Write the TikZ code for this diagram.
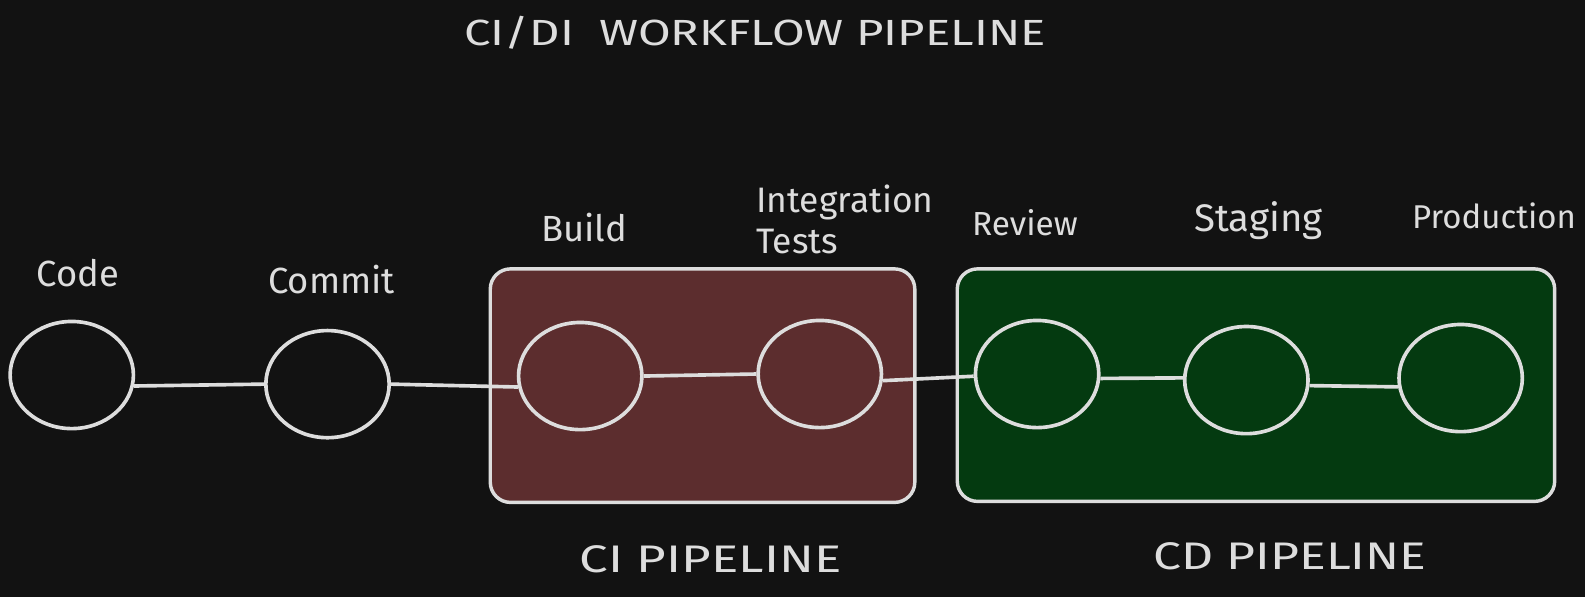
\documentclass[tikz,border=0pt]{standalone}
\usepackage{fontspec}
\setmainfont{Fira Sans}
\usetikzlibrary{shapes.geometric}
\definecolor{bg}{HTML}{121212}
\definecolor{ink}{HTML}{DDDDDD}
\definecolor{cifill}{HTML}{5C2D2E}
\definecolor{cdfill}{HTML}{043A10}
\tikzset{
  stage/.style={ellipse, draw=ink, line width=1.8pt, minimum width=61pt, minimum height=53pt, inner sep=0pt},
  link/.style={draw=ink, line width=1.8pt},
  groupbox/.style={rectangle, draw=ink, line width=1.7pt, rounded corners=10pt, inner sep=0pt},
  lbl/.style={text=ink, inner sep=0pt},
  heading/.style={text=ink, inner sep=0pt},
}
\newcommand{\fsz}[1]{\fontsize{#1}{20}\selectfont}
\begin{document}
\begin{tikzpicture}[x=0.5pt,y=-0.5pt]
\fill[bg] (0,0) rectangle (1568,591);
\useasboundingbox (0,0) rectangle (1568,591);
% group boxes
\node[groupbox, fill=cifill, minimum width=210pt, minimum height=115.5pt] (ci) at (695,381.5) {};
\node[groupbox, fill=cdfill, minimum width=295.5pt, minimum height=115pt] (cd) at (1242.5,381) {};
% stages
\node[stage] (code) at (71,371) {};
\node[stage] (commit) at (324,380) {};
\node[stage] (build) at (574,372) {};
\node[stage] (integ) at (811,370) {};
\node[stage] (review) at (1026,370) {};
\node[stage] (staging) at (1233,376) {};
\node[stage] (prod) at (1445,374) {};
% connectors
\draw[link] (code.-10) -- (commit.west);
\draw[link] (commit.east) -- (build.190);
\draw[link] (build.east) -- (integ.west);
\draw[link] (integ.-6) -- (review.-178);
\draw[link] (review.-4) -- (staging.178);
\draw[link] (staging.-5) -- (prod.188);
% labels
\node[heading, font=\fsz{18}] (title) at (747,32) {\scalebox{1.3}[1]{CI/DI\ \ WORKFLOW PIPELINE}};
\node[lbl, font=\fsz{18}] (lcode) at (77,270) {Code};
\node[lbl, font=\fsz{18}] (lcommit) at (328,277) {Commit};
\node[lbl, font=\fsz{18}] (lbuild) at (578,225) {Build};
\node[lbl, font=\fsz{17.5}, align=left, anchor=west] (linteg) at (748,217) {Integration\\Tests};
\node[lbl, font=\fsz{16.5}] (lreview) at (1014,220) {Review};
\node[lbl, font=\fsz{19}] (lstaging) at (1245,218) {Staging};
\node[lbl, font=\fsz{16.3}] (lprod) at (1478,214) {Production};
\node[heading, font=\fsz{19}] (lci) at (703,553) {\scalebox{1.33}[1]{CI PIPELINE}};
\node[heading, font=\fsz{19}] (lcd) at (1276,550) {\scalebox{1.3}[1]{CD PIPELINE}};
\end{tikzpicture}
\end{document}
